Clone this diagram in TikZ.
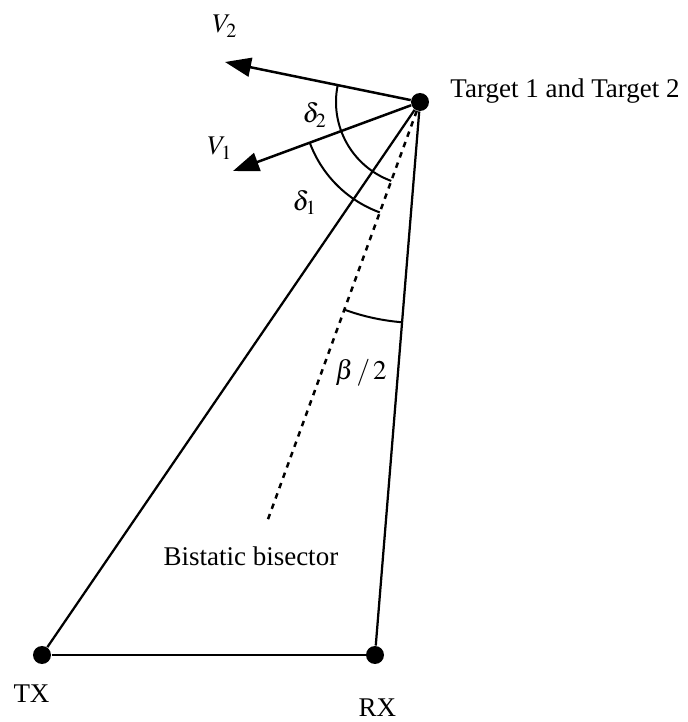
\documentclass[tikz,border=0pt]{standalone}
\usepackage{mathptmx}
\usepackage[no-math]{fontspec}
\setmainfont{Liberation Serif}
\usetikzlibrary{angles, quotes, arrows.meta, calc, positioning}

\begin{document}
\begin{tikzpicture}[x=0.4pt, y=0.4pt,
    dot/.style={circle, fill=black, inner sep=0pt, minimum size=7.2pt},
    edge/.style={line width=0.9pt},
    vel/.style={line width=1pt, -{Triangle[length=10.4pt, width=7.6pt]}},
    bisline/.style={line width=1pt, dash pattern=on 2.2pt off 2.2pt},
    ang/.style={draw, line width=0.8pt},
    lbl/.style={font=\fontsize{10.8}{13}\selectfont, inner sep=0pt, anchor=base west}]
    \useasboundingbox (0,0) rectangle (688,722);
    % Target, transmitter, receiver
    \node[dot] (tgt) at (420,620) {};
    \node[dot] (tx) at (42,67) {};
    \node[dot] (rx) at (375,67) {};
    \coordinate (v2) at (225,660);
    \coordinate (v1) at (233,551);
    \coordinate (bis) at (267,200);
    % Triangle
    \draw[edge] (tx) -- (rx);
    \draw[edge] (tgt) -- (tx);
    \draw[edge] (tgt) -- (rx);
    \draw[bisline] (tgt) -- (bis);
    % Velocities
    \draw[vel] (tgt) -- (v2);
    \draw[vel] (tgt) -- (v1);
    % Angles
    \pic[ang, angle radius=33.6pt] {angle = v2--tgt--bis};
    \pic[ang, angle radius=47pt] {angle = v1--tgt--bis};
    \pic[ang, angle radius=88.4pt] {angle = bis--tgt--rx};
    % Labels
    \node[lbl] (tgtlabel) at (450,625) {Target 1 and Target 2};
    \node[lbl] (v2label) at (212,689) {$V_2$};
    \node[lbl] (v1label) at (207,567) {$V_1$};
    \node[lbl] (d2label) at (302,599) {$\delta_2$};
    \node[lbl] (d1label) at (292,512) {$\delta_1$};
    \node[lbl] (betalabel) at (335,342) {$\beta\,/\,2$};
    \node[lbl] (bislabel) at (163,157) {Bistatic bisector};
    \node[lbl] (txlabel) at (13,20) {TX};
    \node[lbl] (rxlabel) at (358,5) {RX};
\end{tikzpicture}
\end{document}
